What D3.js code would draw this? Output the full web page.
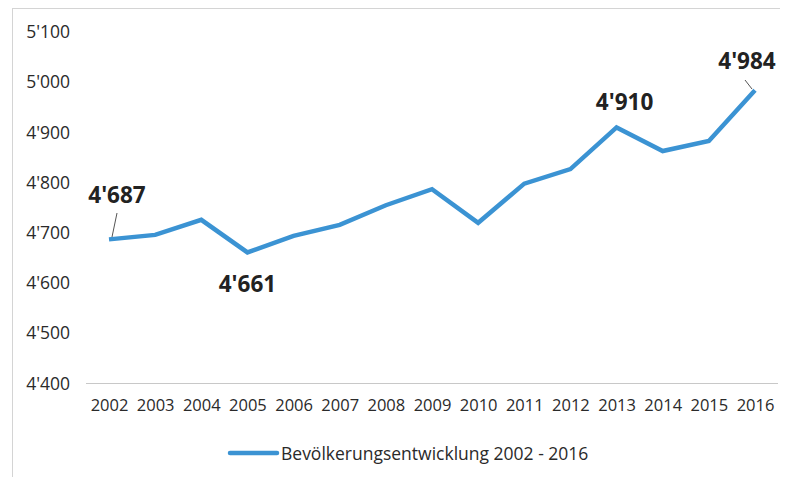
<!DOCTYPE html>
<html>
<head>
<meta charset="utf-8">
<script src="https://cdn.jsdelivr.net/npm/d3@7"></script>
<style>
  html, body { margin: 0; padding: 0; background: #fff; }
  svg { display: block; font-family: "Open Sans", "Noto Sans", sans-serif; }
</style>
</head>
<body>
<svg id="chart" width="790" height="477"></svg>
<script>
// Population figures (Swiss apostrophe notation)
const years = [2002, 2003, 2004, 2005, 2006, 2007, 2008, 2009, 2010, 2011, 2012, 2013, 2014, 2015, 2016];
const population = [4687, 4696, 4726, 4661, 4694, 4716, 4755, 4787, 4720, 4798, 4827, 4910, 4863, 4883, 4984];
const yTicks = [4400, 4500, 4600, 4700, 4800, 4900, 5000, 5100];
const labelledYears = [2002, 2005, 2013, 2016];
const seriesName = "Bevölkerungsentwicklung 2002 - 2016";

const svg = d3.select("#chart");
const lineColor = "#3b93d3";

// Swiss number format: 4'687
const fmt = v => d3.format(",")(v).replace(/,/g, "'");

const x = d3.scalePoint().domain(years).range([109, 755]);
const y = d3.scaleLinear().domain([4400, 5100]).range([383.5, 32]);

// Frame lines of the chart area
svg.append("line").attr("x1", 12.5).attr("x2", 12.5).attr("y1", 8).attr("y2", 477)
  .attr("stroke", "#d4d4d4").attr("stroke-width", 1);
svg.append("line").attr("x1", 12).attr("x2", 780).attr("y1", 8.5).attr("y2", 8.5)
  .attr("stroke", "#d4d4d4").attr("stroke-width", 1);

// Baseline
svg.append("line").attr("x1", 86).attr("x2", 778)
  .attr("y1", y(4400)).attr("y2", y(4400))
  .attr("stroke", "#c8c8c8").attr("stroke-width", 1);

// Y axis labels
const yAxis = d3.axisLeft(y).tickValues(yTicks).tickFormat(fmt).tickSize(0).tickPadding(0);
const gy = svg.append("g").attr("transform", "translate(70,0)").call(yAxis);
gy.select(".domain").remove();
gy.selectAll("text").attr("font-size", 17.5).attr("fill", "#2a2a2a")
  .attr("font-family", "'Open Sans', sans-serif");

// X axis labels
const xAxis = d3.axisBottom(x).tickSize(0).tickPadding(0);
const gx = svg.append("g").attr("transform", "translate(0,399)").call(xAxis);
gx.select(".domain").remove();
gx.selectAll("text").attr("font-size", 16.5).attr("fill", "#2a2a2a")
  .attr("font-family", "'Open Sans', sans-serif");

// Series line
const line = d3.line().x((d, i) => x(years[i])).y(d => y(d));
svg.append("path").datum(population)
  .attr("d", line)
  .attr("fill", "none")
  .attr("stroke", lineColor)
  .attr("stroke-width", 4.5)
  .attr("stroke-linejoin", "miter");

// Data labels with leader lines
const labelPos = {
  2002: { dx: 8, ty: 203, leader: [[117, 213], [112, 237]] },
  2005: { dx: 0, ty: 292, leader: null },
  2013: { dx: 8, ty: 110, leader: null },
  2016: { dx: -8, ty: 69, leader: [[745, 80], [752, 89]] }
};
labelledYears.forEach(yr => {
  const i = years.indexOf(yr);
  const p = labelPos[yr];
  svg.append("text")
    .attr("x", x(yr) + p.dx)
    .attr("y", p.ty)
    .attr("text-anchor", "middle")
    .attr("font-size", 22.5)
    .attr("font-weight", "bold")
    .attr("fill", "#222")
    .text(fmt(population[i]));
  if (p.leader) {
    svg.append("line")
      .attr("x1", p.leader[0][0]).attr("y1", p.leader[0][1])
      .attr("x2", p.leader[1][0]).attr("y2", p.leader[1][1])
      .attr("stroke", "#555").attr("stroke-width", 1);
  }
});

// Legend
const legend = svg.append("g").attr("transform", "translate(230,453)");
legend.append("line").attr("x1", 0).attr("x2", 47).attr("y1", 0).attr("y2", 0)
  .attr("stroke", lineColor).attr("stroke-width", 4.5).attr("stroke-linecap", "round");
legend.append("text").attr("x", 51).attr("y", 6.5)
  .attr("font-size", 17.5).attr("fill", "#2a2a2a")
  .text(seriesName);
</script>
</body>
</html>
